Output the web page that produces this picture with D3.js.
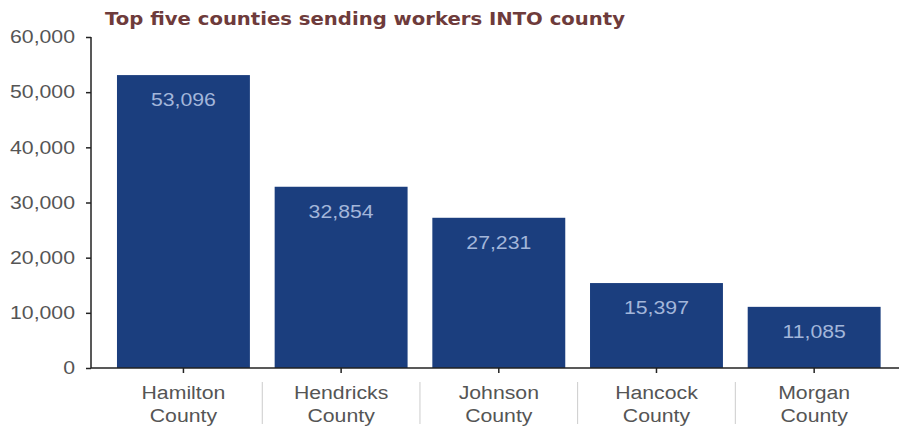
<!DOCTYPE html>
<html><head><meta charset="utf-8">
<script src="https://cdn.jsdelivr.net/npm/d3@7"></script>
<style>body{margin:0;background:#fff}svg{display:block}</style>
</head><body>
<script>
const categories = ["Hamilton County","Hendricks County","Johnson County","Hancock County","Morgan County"];
const values = [53096, 32854, 27231, 15397, 11085];
const yTicks = [0,10000,20000,30000,40000,50000,60000];
const title = "Top five counties sending workers INTO county";

const W=899,H=428;
const svg=d3.select("body").append("svg").attr("width",W).attr("height",H);
const axisX=91, y0=368, yTop=37;
const y=d3.scaleLinear().domain([0,60000]).range([y0,yTop]);
const x=d3.scaleBand().domain(categories).range([104.6,893]).paddingInner(0.157).paddingOuter(0.0785);
const font="'Liberation Sans', Arial, sans-serif";
const STRETCH=1.18;
function stretch(sel,f){
  sel.each(function(){
    const n=this.getComputedTextLength();
    d3.select(this).attr("textLength",n*f).attr("lengthAdjust","spacingAndGlyphs");
  });
}

const tt=svg.append("text").attr("x",105).attr("y",25).attr("font-family","'DejaVu Sans',Verdana,sans-serif")
  .attr("font-weight","bold").attr("font-size",17.5).attr("fill","#6e3b3b").text(title)
  .attr("textLength",520).attr("lengthAdjust","spacingAndGlyphs");

svg.selectAll("rect.bar").data(values).enter().append("rect")
  .attr("x",(d,i)=>x(categories[i])).attr("width",x.bandwidth())
  .attr("y",d=>y(d)).attr("height",d=>y0-y(d)).attr("fill","#1b3e7e");

const vl=svg.selectAll("text.val").data(values).enter().append("text")
  .attr("x",(d,i)=>x(categories[i])+x.bandwidth()/2).attr("y",d=>y(d)+31)
  .attr("text-anchor","middle").attr("font-family",font).attr("font-size",18)
  .attr("fill","#a3b6da").text(d=>d3.format(",")(d));
stretch(vl,STRETCH);

const ya=svg.append("g").attr("transform",`translate(${axisX},0)`)
  .call(d3.axisLeft(y).tickValues(yTicks).tickSize(5).tickPadding(11).tickFormat(d3.format(",")));
ya.select(".domain").attr("stroke","#222").attr("stroke-width",1.5).attr("d",`M-0,${yTop}V${y0}`);
ya.selectAll(".tick line").attr("stroke","#222").attr("stroke-width",1.5);
const yl=ya.selectAll("text").attr("font-family",font).attr("font-size",18).attr("fill","#555");
stretch(yl,STRETCH);

svg.append("line").attr("x1",axisX).attr("x2",W).attr("y1",y0).attr("y2",y0).attr("stroke","#222").attr("stroke-width",1.5);
svg.selectAll("line.xt").data(categories).enter().append("line")
  .attr("x1",d=>x(d)+x.bandwidth()/2).attr("x2",d=>x(d)+x.bandwidth()/2)
  .attr("y1",y0).attr("y2",y0+5).attr("stroke","#222").attr("stroke-width",1.5);
svg.selectAll("line.sep").data(categories.slice(1)).enter().append("line")
  .attr("x1",d=>x(d)-x.step()*x.paddingInner()/2).attr("x2",d=>x(d)-x.step()*x.paddingInner()/2)
  .attr("y1",382).attr("y2",424).attr("stroke","#ccc").attr("stroke-width",1);

const lab=svg.selectAll("text.xl").data(categories).enter().append("text")
  .attr("text-anchor","middle").attr("font-family",font).attr("font-size",18).attr("fill","#555");
lab.each(function(d){
  const parts=d.split(" ");
  const t=d3.select(this);
  parts.forEach((p,i)=>{
    const ts=t.append("tspan").attr("x",x(d)+x.bandwidth()/2).attr("y",399+i*23).text(p);
  });
});
lab.selectAll("tspan").each(function(){
  const n=this.getComputedTextLength();
  d3.select(this).attr("textLength",n*STRETCH).attr("lengthAdjust","spacingAndGlyphs");
});
</script>
</body></html>
